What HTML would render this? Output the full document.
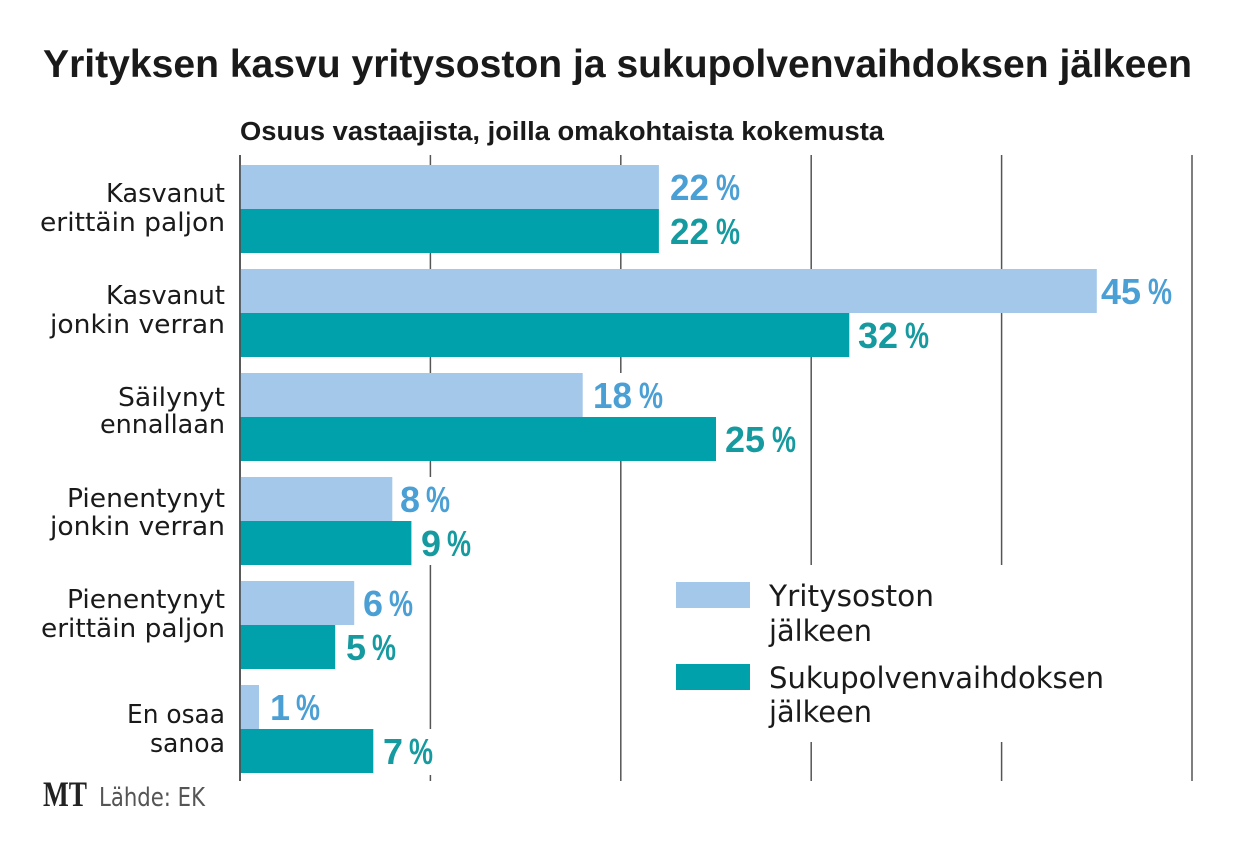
<!DOCTYPE html>
<html><head><meta charset="utf-8"><style>
html,body{margin:0;padding:0;background:#fff;}
svg{display:block;}
</style></head><body>
<svg width="1240" height="854" viewBox="0 0 1240 854" xmlns="http://www.w3.org/2000/svg">
<rect width="1240" height="854" fill="#fff"/>
<!-- title -->
<text x="43" y="77" font-family="Liberation Sans, sans-serif" font-weight="bold" font-size="39" fill="#1a1a1a" textLength="1149" lengthAdjust="spacingAndGlyphs">Yrityksen kasvu yritysoston ja sukupolvenvaihdoksen jälkeen</text>
<text x="240" y="140" font-family="Liberation Sans, sans-serif" font-weight="bold" font-size="25.5" fill="#1a1a1a" textLength="644" lengthAdjust="spacingAndGlyphs">Osuus vastaajista, joilla omakohtaista kokemusta</text>

<!-- gridlines -->
<g stroke="#555" stroke-width="1.5">
<line x1="430.4" y1="155" x2="430.4" y2="781"/>
<line x1="620.8" y1="155" x2="620.8" y2="781"/>
<line x1="811.2" y1="155" x2="811.2" y2="781"/>
<line x1="1001.6" y1="155" x2="1001.6" y2="781"/>
<line x1="1192" y1="155" x2="1192" y2="781"/>
</g>
<line x1="240" y1="155" x2="240" y2="781" stroke="#222" stroke-width="1.5"/>

<!-- legend background -->
<rect x="660" y="565" width="470" height="177" fill="#fff"/>

<!-- bars -->
<g fill="#a4c8ea">
<rect x="240.8" y="165" width="418.1" height="44"/>
<rect x="240.8" y="269" width="856" height="44"/>
<rect x="240.8" y="373" width="341.9" height="44"/>
<rect x="240.8" y="477" width="151.5" height="44"/>
<rect x="240.8" y="581" width="113.4" height="44"/>
<rect x="240.8" y="685" width="18.2" height="44"/>
</g>
<g fill="#00a1aa">
<rect x="240.8" y="209" width="418.1" height="44"/>
<rect x="240.8" y="313" width="608.5" height="44"/>
<rect x="240.8" y="417" width="475.2" height="44"/>
<rect x="240.8" y="521" width="170.6" height="44"/>
<rect x="240.8" y="625" width="94.4" height="44"/>
<rect x="240.8" y="729" width="132.5" height="44"/>
</g>

<!-- label backgrounds -->
<g fill="#fff">
<rect x="590" y="373" width="76" height="44"/>
<rect x="399" y="477" width="54" height="44"/>
<rect x="418" y="521" width="54" height="44"/>
<rect x="380" y="729" width="55" height="46"/>
</g>

<!-- value labels -->
<g font-family="Liberation Sans, sans-serif" font-weight="bold" font-size="36" lengthAdjust="spacingAndGlyphs">
<!-- light -->
<g fill="#4a9fd5">
<text x="670" y="200" textLength="39" lengthAdjust="spacingAndGlyphs">22</text><text x="716" y="200" textLength="24" lengthAdjust="spacingAndGlyphs">%</text>
<text x="1101" y="304" textLength="40" lengthAdjust="spacingAndGlyphs">45</text><text x="1148" y="304" textLength="24" lengthAdjust="spacingAndGlyphs">%</text>
<text x="593" y="408" textLength="39" lengthAdjust="spacingAndGlyphs">18</text><text x="639" y="408" textLength="24" lengthAdjust="spacingAndGlyphs">%</text>
<text x="400" y="512" textLength="20" lengthAdjust="spacingAndGlyphs">8</text><text x="426" y="512" textLength="24" lengthAdjust="spacingAndGlyphs">%</text>
<text x="363" y="616" textLength="20" lengthAdjust="spacingAndGlyphs">6</text><text x="389" y="616" textLength="24" lengthAdjust="spacingAndGlyphs">%</text>
<text x="270" y="720" textLength="20" lengthAdjust="spacingAndGlyphs">1</text><text x="296" y="720" textLength="24" lengthAdjust="spacingAndGlyphs">%</text>
</g>
<!-- teal -->
<g fill="#159aa0">
<text x="670" y="244" textLength="39" lengthAdjust="spacingAndGlyphs">22</text><text x="716" y="244" textLength="24" lengthAdjust="spacingAndGlyphs">%</text>
<text x="858" y="348" textLength="40" lengthAdjust="spacingAndGlyphs">32</text><text x="905" y="348" textLength="24" lengthAdjust="spacingAndGlyphs">%</text>
<text x="725" y="452" textLength="40" lengthAdjust="spacingAndGlyphs">25</text><text x="772" y="452" textLength="24" lengthAdjust="spacingAndGlyphs">%</text>
<text x="421" y="556" textLength="20" lengthAdjust="spacingAndGlyphs">9</text><text x="447" y="556" textLength="24" lengthAdjust="spacingAndGlyphs">%</text>
<text x="346" y="660" textLength="20" lengthAdjust="spacingAndGlyphs">5</text><text x="372" y="660" textLength="24" lengthAdjust="spacingAndGlyphs">%</text>
<text x="383" y="764" textLength="20" lengthAdjust="spacingAndGlyphs">7</text><text x="409" y="764" textLength="24" lengthAdjust="spacingAndGlyphs">%</text>
</g>
</g>

<!-- category labels -->
<g font-family="DejaVu Sans, sans-serif" font-size="26" fill="#1a1a1a">
<text x="106" y="202" textLength="119" lengthAdjust="spacingAndGlyphs">Kasvanut</text>
<text x="40" y="231" textLength="185" lengthAdjust="spacingAndGlyphs">erittäin paljon</text>
<text x="106" y="304" textLength="119" lengthAdjust="spacingAndGlyphs">Kasvanut</text>
<text x="50" y="333" textLength="175" lengthAdjust="spacingAndGlyphs">jonkin verran</text>
<text x="118" y="406" textLength="107" lengthAdjust="spacingAndGlyphs">Säilynyt</text>
<text x="100" y="433" textLength="125" lengthAdjust="spacingAndGlyphs">ennallaan</text>
<text x="67" y="507" textLength="158" lengthAdjust="spacingAndGlyphs">Pienentynyt</text>
<text x="50" y="535" textLength="175" lengthAdjust="spacingAndGlyphs">jonkin verran</text>
<text x="67" y="608" textLength="158" lengthAdjust="spacingAndGlyphs">Pienentynyt</text>
<text x="41" y="637" textLength="184" lengthAdjust="spacingAndGlyphs">erittäin paljon</text>
<text x="127" y="723" textLength="98" lengthAdjust="spacingAndGlyphs">En osaa</text>
<text x="150" y="752" textLength="75" lengthAdjust="spacingAndGlyphs">sanoa</text>
</g>

<!-- legend -->
<rect x="676" y="582" width="74" height="26" fill="#a4c8ea"/>
<rect x="676" y="664" width="74" height="26" fill="#00a1aa"/>
<g font-family="DejaVu Sans, sans-serif" font-size="29" fill="#1a1a1a">
<text x="769" y="606" textLength="165" lengthAdjust="spacingAndGlyphs">Yritysoston</text>
<text x="769" y="641" textLength="103" lengthAdjust="spacingAndGlyphs">jälkeen</text>
<text x="769" y="688" textLength="335" lengthAdjust="spacingAndGlyphs">Sukupolvenvaihdoksen</text>
<text x="769" y="722" textLength="103" lengthAdjust="spacingAndGlyphs">jälkeen</text>
</g>

<!-- footer -->
<text x="43" y="806" font-family="Liberation Serif, serif" font-weight="bold" font-size="36" fill="#222" textLength="44" lengthAdjust="spacingAndGlyphs">MT</text>
<text x="99" y="806" font-family="DejaVu Sans, sans-serif" font-size="26" fill="#555" textLength="106" lengthAdjust="spacingAndGlyphs">Lähde: EK</text>
</svg>
</body></html>
